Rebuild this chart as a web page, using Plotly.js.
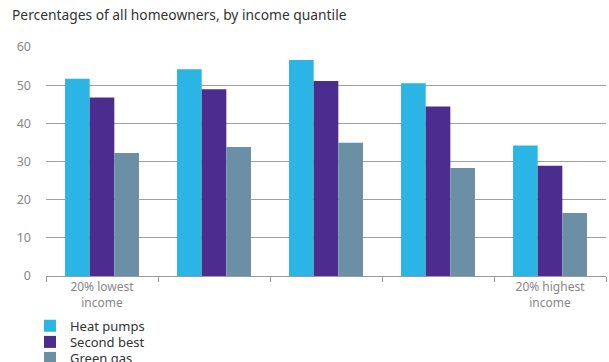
<!DOCTYPE html>
<html>
<head>
<meta charset="utf-8">
<script src="https://cdn.plot.ly/plotly-3.0.1.min.js"></script>
<style>html,body{margin:0;padding:0;background:#fff;overflow:hidden;}#chart{width:609px;height:384px;}</style>
</head>
<body>
<div id="chart"></div>
<script>
const categories = ['Q1', 'Q2', 'Q3', 'Q4', 'Q5'];
const tickLabels = ['20% lowest<br>income', '', '', '', '20% highest<br>income'];
const heatPumps = [51.7, 54.2, 56.6, 50.5, 34.2];
const secondBest = [46.8, 48.9, 51.1, 44.4, 28.9];
const greenGas = [32.2, 33.8, 34.9, 28.3, 16.5];
const seriesNames = ['Heat pumps', 'Second best', 'Green gas'];
const colors = ['#2bb5e5', '#4b2d8f', '#6b8fa5'];
const legendIds = ['legend', 'legend2', 'legend3'];

const series = [heatPumps, secondBest, greenGas];
const traces = series.map((vals, i) => ({
  type: 'bar',
  name: seriesNames[i],
  x: categories,
  y: vals,
  legend: legendIds[i],
  marker: { color: colors[i], line: { width: 0 } },
  hoverinfo: 'skip'
}));

const legendBase = (yPos) => ({
  orientation: 'v',
  x: -0.0286, xanchor: 'left',
  y: yPos, yanchor: 'middle',
  font: { family: 'Noto Sans, sans-serif', size: 13, color: '#333' },
  itemwidth: 30,
  bgcolor: 'rgba(0,0,0,0)'
});

const layout = {
  width: 609,
  height: 384,
  margin: { l: 46, r: 3, t: 47, b: 108 },
  paper_bgcolor: '#fff',
  plot_bgcolor: '#fff',
  font: { family: 'Noto Sans, sans-serif', size: 12, color: '#333' },
  title: {
    text: 'Percentages of all homeowners, by income quantile',
    x: 0, xref: 'container', xanchor: 'left',
    y: 1, yref: 'container', yanchor: 'top',
    pad: { t: 10, l: 12 },
    font: { family: 'Noto Sans, sans-serif', size: 13.8, color: '#333' }
  },
  barmode: 'group',
  bargap: 0.34,
  bargroupgap: 0,
  xaxis: {
    type: 'category',
    tickvals: categories,
    ticktext: tickLabels,
    tickson: 'boundaries',
    ticks: 'outside',
    ticklen: 5,
    tickcolor: '#999',
    showline: true,
    linecolor: '#999',
    linewidth: 1,
    showgrid: false,
    tickfont: { size: 12, color: '#888' },
    fixedrange: true
  },
  yaxis: {
    range: [0, 60],
    dtick: 10,
    showgrid: true,
    gridcolor: '#a0a0a0',
    gridwidth: 1,
    zeroline: false,
    showline: false,
    ticks: '',
    ticklabelstandoff: 14,
    tickfont: { size: 12.5, color: '#888' },
    fixedrange: true
  },
  showlegend: true,
  legend: legendBase(-0.217),
  legend2: legendBase(-0.288),
  legend3: legendBase(-0.358)
};

Plotly.newPlot('chart', traces, layout, { staticPlot: true, displayModeBar: false });
</script>
</body>
</html>
